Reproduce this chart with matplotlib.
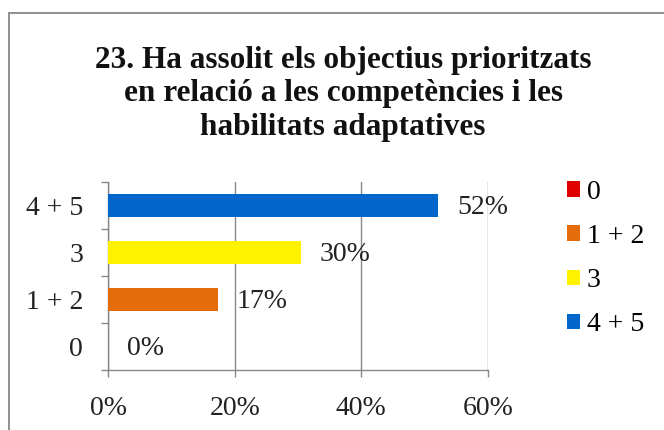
import matplotlib.pyplot as plt
import matplotlib.patches as mpatches

categories = ["0", "1 + 2", "3", "4 + 5"]
values = [0.0, 17.39, 30.43, 52.17]
labels = ["0%", "17%", "30%", "52%"]
colors = ["#E00000", "#E46C0A", "#FFF200", "#0066CC"]
xticks = [0, 20, 40, 60]
title = ("23. Ha assolit els objectius prioritzats\n"
         "en relació a les competències i les\n"
         "habilitats adaptatives")

plt.rcParams["font.family"] = ["Liberation Serif", "DejaVu Serif"]

fig = plt.figure(figsize=(6.64, 4.3), dpi=100)
ax = fig.add_axes([0.1627, 0.1395, 0.5723, 0.4372])

ypos = list(range(len(categories)))
bars = ax.barh(ypos, values, height=0.49, color=colors, zorder=3)

for y, v, lab in zip(ypos, values, labels):
    ax.annotate(lab, (v, y), xytext=(13.5, -1.5), textcoords="offset points",
                ha="left", va="center", fontsize=20, color="#222222")

ax.set_xlim(0, 60)
ax.set_ylim(-0.5, 3.5)
ax.set_xticks(xticks)
ax.set_xticklabels([f"{t}%" for t in xticks])
ax.tick_params(axis="x", length=5, width=1, color="#888888", pad=14,
               labelsize=20, labelcolor="#222222")

# category labels at centres, tick marks at the boundaries
ax.set_yticks(ypos)
ax.set_yticklabels(categories)
ax.tick_params(axis="y", which="major", length=0, pad=18, labelsize=20,
               labelcolor="#222222")
ax.set_yticks([-0.5, 0.5, 1.5, 2.5, 3.5], minor=True)
ax.tick_params(axis="y", which="minor", length=5, width=1, color="#888888")

ax.grid(axis="x", color="#888888", linewidth=1, zorder=0)
for side in ["top", "right"]:
    ax.spines[side].set_visible(False)
for side in ["left", "bottom"]:
    ax.spines[side].set_color("#888888")
    ax.spines[side].set_linewidth(1)

handles = [mpatches.Patch(facecolor=c, edgecolor="none") for c in colors]
fig.legend(handles, categories, loc="upper left",
           bbox_to_anchor=(0.854, 0.582), frameon=False, fontsize=20,
           handlelength=0.47, handleheight=0.47, handletextpad=0.25,
           labelspacing=0.69, borderaxespad=0, borderpad=0)

fig.text(0.5166, 0.7814, title, ha="center", va="center", fontsize=22.5,
         fontweight="bold", linespacing=1.2, color="#111111")

# outer chart frame (runs off the right and bottom edges)
fig.patches.append(mpatches.Rectangle((9 / 664, -0.1), 1.2, 1 - 13 / 430 + 0.1,
                                      transform=fig.transFigure, fill=False,
                                      edgecolor="#888888", linewidth=1.3))

fig.savefig("out.png", dpi=100)
